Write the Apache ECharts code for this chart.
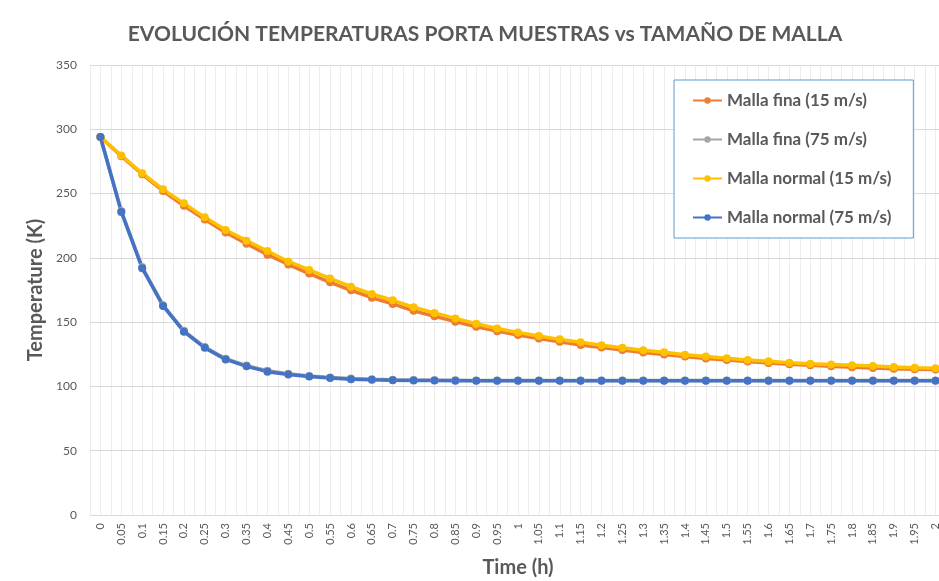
<!DOCTYPE html>
<html>
<head>
<meta charset="utf-8">
<script src="https://cdn.jsdelivr.net/npm/echarts@6/dist/echarts.min.js"></script>
<style>
  html, body { margin: 0; padding: 0; background: #fff; }
  #chart { width: 939px; height: 581px; }
</style>
</head>
<body>
<div id="chart"></div>
<script>
// time steps (h)
const timeLabels = ["0","0.05","0.1","0.15","0.2","0.25","0.3","0.35","0.4","0.45",
  "0.5","0.55","0.6","0.65","0.7","0.75","0.8","0.85","0.9","0.95",
  "1","1.05","1.1","1.15","1.2","1.25","1.3","1.35","1.4","1.45",
  "1.5","1.55","1.6","1.65","1.7","1.75","1.8","1.85","1.9","1.95","2"];

// temperatures (K)
const finaSlow = [294, 279, 265, 252, 240.5, 229.8, 219.8, 211, 202.5, 194.8,
  187.8, 181, 174.8, 169, 164.2, 158.8, 154.6, 150.4, 146.4, 143,
  140, 137.2, 134.7, 132.3, 130.2, 128.3, 126.4, 124.8, 123.2, 121.8,
  120.5, 119.3, 118.3, 117.3, 116.4, 115.6, 114.9, 114.3, 113.8, 113.4, 113.1];
const finaFast = [294, 236.5, 192.8, 163.2, 143.3, 130.6, 121.6, 116.2, 112.2, 109.8,
  108.2, 107, 106.1, 105.6, 105.2, 105, 104.9, 104.8, 104.7, 104.7,
  104.6, 104.6, 104.6, 104.6, 104.6, 104.6, 104.6, 104.6, 104.6, 104.6,
  104.6, 104.6, 104.6, 104.6, 104.6, 104.6, 104.6, 104.6, 104.6, 104.6, 104.6];
const normalSlow = [294, 279.7, 265.8, 253.3, 242.4, 231.5, 221.7, 213.4, 205.3, 197.2,
  190.6, 184, 177.6, 171.9, 167, 161.6, 157.2, 152.9, 148.7, 145,
  142, 139.2, 136.6, 134.3, 132, 130.1, 128.1, 126.5, 124.7, 123.2,
  121.9, 120.5, 119.5, 118.5, 117.6, 117, 116.4, 115.8, 115.2, 114.6, 114.1];
const normalFast = [294, 235.7, 192, 162.6, 142.6, 130, 121, 115.6, 111.5, 109.2,
  107.8, 106.5, 105.6, 105.2, 104.9, 104.7, 104.6, 104.5, 104.5, 104.5,
  104.5, 104.5, 104.5, 104.5, 104.5, 104.5, 104.5, 104.5, 104.5, 104.5,
  104.5, 104.5, 104.5, 104.5, 104.5, 104.5, 104.5, 104.5, 104.5, 104.5, 104.5];

const seriesNames = ["Malla fina (15 m/s)", "Malla fina (75 m/s)", "Malla normal (15 m/s)", "Malla normal (75 m/s)"];
const seriesColors = ["#ED7D31", "#A5A5A5", "#FFC000", "#4472C4"];
const seriesData = [finaSlow, finaFast, normalSlow, normalFast];

// half-step bands, only used to draw the light vertical grid
const halfSteps = timeLabels.flatMap(t => [t + "a", t + "b"]);

const FONT = "Lato";
const chart = echarts.init(document.getElementById("chart"));

chart.setOption({
  backgroundColor: "#fff",
  animation: false,
  textStyle: { fontFamily: FONT },
  title: {
    text: "EVOLUCIÓN TEMPERATURAS PORTA MUESTRAS vs TAMAÑO DE MALLA",
    left: 480,
    textAlign: "center",
    top: 19,
    textStyle: { fontFamily: FONT, fontSize: 21, fontWeight: "bold", color: "#595959" }
  },
  legend: {
    orient: "vertical",
    left: 674,
    top: 80,
    padding: [12, 22, 12, 18],
    itemGap: 22,
    itemWidth: 29,
    itemHeight: 8,
    borderColor: "#5B9BD5",
    borderWidth: 1,
    backgroundColor: "#fff",
    data: seriesNames,
    textStyle: { fontFamily: FONT, fontSize: 17, fontWeight: "bold", color: "#595959" }
  },
  grid: { left: 90, right: -7, top: 65, bottom: 66, outerBoundsMode: "none" },
  xAxis: [
    {
      type: "category",
      data: timeLabels,
      boundaryGap: true,
      name: "Time (h)",
      nameLocation: "middle",
      nameGap: 43,
      nameTextStyle: { fontFamily: FONT, fontSize: 20, fontWeight: "bold", color: "#595959" },
      axisLine: { lineStyle: { color: "#d9d9d9", width: 1 } },
      axisTick: { show: false },
      axisLabel: { interval: 0, rotate: 90, fontSize: 11, color: "#595959", margin: 8 },
      splitLine: { show: false },
      z: 3
    },
    {
      type: "category",
      data: halfSteps,
      boundaryGap: true,
      position: "bottom",
      axisLine: { show: false },
      axisTick: { show: false },
      axisLabel: { show: false },
      splitLine: { show: true, interval: 0, lineStyle: { color: "#ededed", width: 1 } }
    }
  ],
  yAxis: {
    type: "value",
    min: 0,
    max: 350,
    interval: 50,
    name: "Temperature (K)",
    nameLocation: "middle",
    nameGap: 36,
    nameTextStyle: { fontFamily: FONT, fontSize: 20, fontWeight: "bold", color: "#595959" },
    axisLine: { show: false },
    axisTick: { show: false },
    axisLabel: { fontSize: 12, color: "#595959", margin: 13 },
    splitLine: { lineStyle: { color: "#d9d9d9", width: 1 } },
    z: 2
  },
  series: seriesNames.map((name, i) => ({
    name: name,
    type: "line",
    xAxisIndex: 0,
    data: seriesData[i],
    symbol: "circle",
    symbolSize: 8,
    color: seriesColors[i],
    lineStyle: { width: 3.5, color: seriesColors[i] },
    itemStyle: { color: seriesColors[i] }
  }))
});
</script>
</body>
</html>
